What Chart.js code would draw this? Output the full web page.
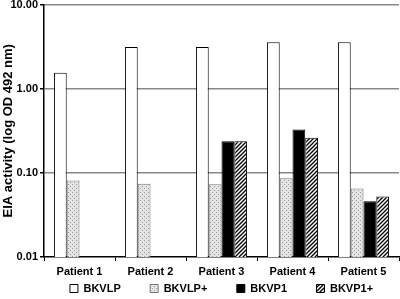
<!DOCTYPE html>
<html>
<head>
<meta charset="utf-8">
<script src="https://cdn.jsdelivr.net/npm/chart.js@4.4.0/dist/chart.umd.min.js"></script>
<style>
  html, body { margin: 0; padding: 0; background: #fff; }
  #wrap { width: 400px; height: 299px; }
</style>
</head>
<body>
<div id="wrap"><canvas id="grafico"></canvas></div>
<script>
const categorias = ['Patient 1', 'Patient 2', 'Patient 3', 'Patient 4', 'Patient 5'];
const series     = ['BKVLP', 'BKVLP+', 'BKVP1', 'BKVP1+'];
const bkvlp      = [1.54, 3.13, 3.13, 3.55, 3.55];
const bkvlpMas   = [0.081, 0.074, 0.073, 0.086, 0.065];
const bkvp1      = [null, null, 0.238, 0.327, 0.046];
const bkvp1Mas   = [null, null, 0.238, 0.261, 0.0525];
const ticksY     = [0.01, 0.1, 1, 10];

// patron punteado
function patronPuntos(){
    const c = document.createElement('canvas');
    c.width = 4; c.height = 4;
    const g = c.getContext('2d');
    g.fillStyle = '#e4e4e4';
    g.fillRect(0, 0, 4, 4);
    g.fillStyle = '#9a9a9a';
    g.fillRect(0, 0, 1, 1);
    g.fillRect(2, 2, 1, 1);
    return g.createPattern(c, 'repeat');
}

// patron rayado diagonal
function patronRayas(){
    const c = document.createElement('canvas');
    c.width = 4; c.height = 4;
    const g = c.getContext('2d');
    g.fillStyle = '#fff';
    g.fillRect(0, 0, 4, 4);
    g.strokeStyle = '#000';
    g.lineWidth = 1.3;
    g.beginPath();
    g.moveTo(-1, 5); g.lineTo(5, -1);
    g.moveTo(-1, 1); g.lineTo(1, -1);
    g.moveTo(3, 5); g.lineTo(5, 3);
    g.stroke();
    return g.createPattern(c, 'repeat');
}

const familia = '"Liberation Sans", Arial, sans-serif';
const fuente = { family: familia, weight: 'bold', size: 11 };
const bordeNulo = ctx => ctx.raw == null ? 0 : 1;

const datasets = [
    { label: series[0], data: bkvlp,    backgroundColor: '#fff',         borderColor: '#000', borderWidth: bordeNulo },
    { label: series[1], data: bkvlpMas, backgroundColor: patronPuntos(), borderColor: '#777', borderWidth: bordeNulo },
    { label: series[2], data: bkvp1,    backgroundColor: '#000',         borderColor: '#000', borderWidth: bordeNulo },
    { label: series[3], data: bkvp1Mas, backgroundColor: patronRayas(),  borderColor: '#000', borderWidth: bordeNulo }
];

const options = {
    responsive: true,
    maintainAspectRatio: false,
    animation: false,
    layout: { padding: { top: 0, right: 1, left: 0, bottom: 0 } },
    datasets: {
        bar: { barPercentage: 1, categoryPercentage: 0.72 }
    },
    scales: {
        x: {
            offset: true,
            grid: {
                offset: true,
                drawOnChartArea: true,
                color: ctx => ctx.index === 5 ? '#888' : 'rgba(0,0,0,0)',
                tickColor: '#000',
                tickLength: 4
            },
            border: { color: '#000', width: 1.5 },
            ticks: { color: '#000', font: fuente, padding: 4, maxRotation: 0 },
            afterFit: s => { s.height = 21; }
        },
        y: {
            type: 'logarithmic',
            min: 0.01,
            max: 10,
            afterBuildTicks: s => { s.ticks = ticksY.map(v => ({ value: v })); },
            grid: {
                color: ctx => ctx.tick && ctx.tick.value === 0.01 ? 'rgba(0,0,0,0)' : '#888',
                lineWidth: 1.5,
                tickColor: '#000',
                tickLength: 4
            },
            border: { color: '#000', width: 1.5 },
            ticks: {
                color: '#000',
                font: { family: familia, weight: 'bold', size: 11, lineHeight: 0.45 },
                padding: 2,
                callback: v => Number(v).toFixed(2)
            },
            title: {
                display: true,
                text: 'EIA activity (log OD 492 nm)',
                color: '#000',
                font: { family: familia, weight: 'bold', size: 13 },
                padding: { top: 1, bottom: 1 }
            },
            afterFit: s => { s.width = 44; }
        }
    },
    plugins: {
        legend: {
            display: true,
            position: 'bottom',
            fullSize: false,
            maxHeight: 21,
            labels: {
                color: '#000',
                font: fuente,
                boxWidth: 8,
                boxHeight: 8,
                padding: 5,
                useBorderRadius: false,
                generateLabels: chart => {
                    const items = Chart.defaults.plugins.legend.labels.generateLabels(chart);
                    items.forEach((it, i) => {
                        it.lineWidth = 1;
                        if (i < items.length - 1) it.text = it.text + '        ';
                    });
                    return items;
                }
            }
        },
        tooltip: { enabled: false }
    }
};

new Chart(document.getElementById('grafico'), {
    type: 'bar',
    data: { labels: categorias, datasets: datasets },
    options: options
});
</script>
</body>
</html>
